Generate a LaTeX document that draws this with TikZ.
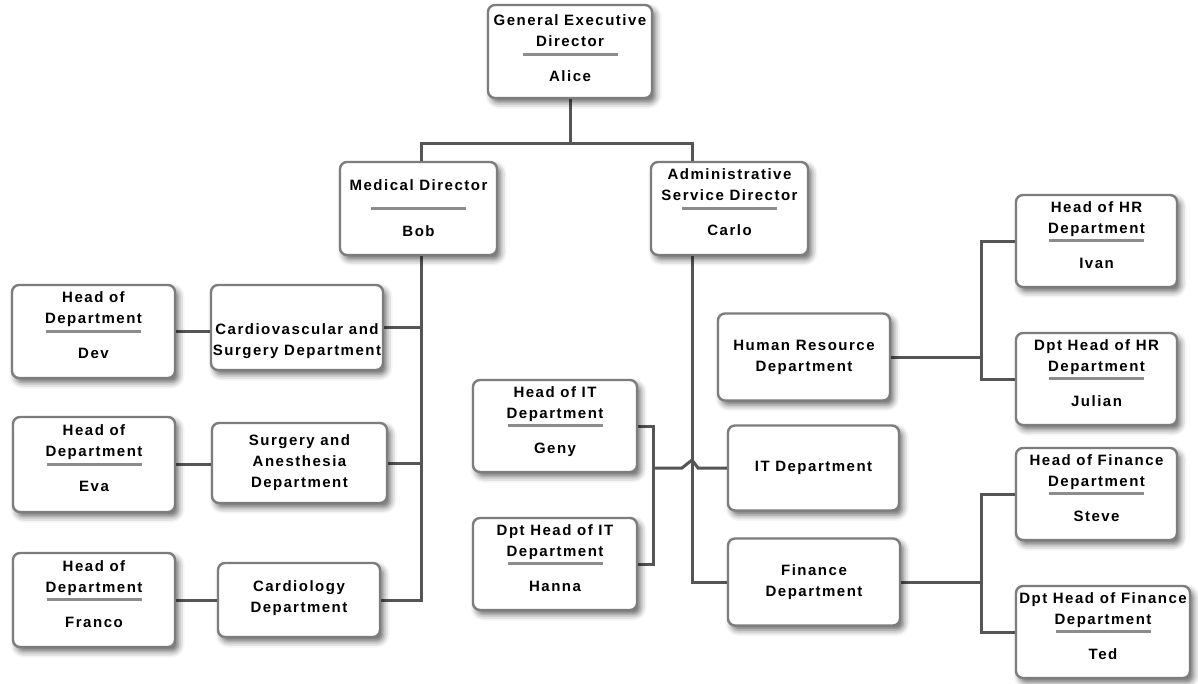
\documentclass[tikz,border=0pt]{standalone}
\usepackage{fontspec}
\setmainfont{Liberation Sans}[LetterSpace=10]
\usetikzlibrary{calc,shadows.blur}

\definecolor{linegray}{RGB}{85,85,85}
\definecolor{framegray}{RGB}{125,125,125}
\definecolor{rulegray}{RGB}{140,140,140}

\pgfdeclarelayer{background}
\pgfsetlayers{background,main}

\tikzset{
  box/.style={draw=framegray, line width=2.4pt, fill=white, rounded corners=7pt,
    inner sep=0pt,
    blur shadow={shadow xshift=3.5pt, shadow yshift=-4.5pt, shadow blur radius=6pt, shadow opacity=60}},
  conn/.style={draw=linegray, line width=3pt},
  sepline/.style={draw=rulegray, line width=3pt},
  txt/.style={font=\bfseries\fontsize{15}{21}\selectfont, inner sep=0pt, align=center, anchor=base},
  dtxt/.style={font=\bfseries\fontsize{15}{21}\selectfont, inner sep=0pt, align=center},
}

% staff box: name, x, y, width, height, title line 1, title line 2, person, vertical offset
\newcommand\staffbox[9]{%
  \node[box, minimum width=#4pt, minimum height=#5pt] (#1) at (#2,#3) {};
  \node[txt] at ($(#1.center)+(0,#9-28.6)$) {#6};
  \node[txt] at ($(#1.center)+(0,#9-7.6)$) {#7};
  \draw[sepline] ($(#1.center)+(-47.5,#9-0.5)$) -- ($(#1.center)+(47.5,#9-0.5)$);
  \node[txt] at ($(#1.center)+(0,#9+27.4)$) {#8};
}
% department box: name, x, y, width, height, text, vertical text offset
\newcommand\deptbox[7]{%
  \node[box, minimum width=#4pt, minimum height=#5pt] (#1) at (#2,#3) {};
  \node[dtxt] at ($(#1.center)+(0,#7)$) {#6};
}

\begin{document}
\begin{tikzpicture}[x=1pt, y=-1pt]
\useasboundingbox (0,0) rectangle (1198,683);

% top levels
\staffbox{alice}{570}{51.5}{164}{93}{General Executive}{Director}{Alice}{3}
\staffbox{bob}{418.5}{208.5}{157}{93}{}{}{Bob}{0.5}
\node[txt] at ($(bob.center)+(0,-18)$) {Medical Director};
\staffbox{carlo}{729.5}{208.5}{157}{93}{Administrative}{Service Director}{Carlo}{0}

% medical branch
\deptbox{cardio}{297}{327.5}{172}{85}{Cardiovascular and\\Surgery Department}{14}
\deptbox{surgery}{299.5}{463}{175}{80}{Surgery and\\Anesthesia\\Department}{0}
\deptbox{cardiology}{299}{600}{162}{74}{Cardiology\\Department}{-1.5}
\staffbox{dev}{93.5}{331.5}{163}{93}{Head of}{Department}{Dev}{0}
\staffbox{eva}{94}{464.5}{162}{95}{Head of}{Department}{Eva}{0}
\staffbox{franco}{94}{600}{162}{94}{Head of}{Department}{Franco}{0}

% administrative branch
\deptbox{hr}{804}{357}{172}{87}{Human Resource\\Department}{0}
\deptbox{it}{813.5}{468}{171}{85}{IT Department}{0}
\deptbox{finance}{814}{582}{172}{87}{Finance\\Department}{0}
\staffbox{geny}{555}{426}{164}{92}{Head of IT}{Department}{Geny}{0}
\staffbox{hanna}{555}{564}{164}{92}{Dpt Head of IT}{Department}{Hanna}{0}
\staffbox{ivan}{1096.5}{241}{161}{92}{Head of HR}{Department}{Ivan}{0}
\staffbox{julian}{1096.5}{379}{161}{92}{Dpt Head of HR}{Department}{Julian}{0}
\staffbox{steve}{1096.5}{494}{161}{92}{Head of Finance}{Department}{Steve}{0}
\staffbox{ted}{1103}{632}{174}{92}{Dpt Head of Finance}{Department}{Ted}{0}

% bus and trunk points
\coordinate (bx) at (421,143);
\coordinate (cx) at (692,143);
\coordinate (bend) at (421,600);
\coordinate (cend) at (692,582);
\coordinate (itx) at (653,468);
\coordinate (hrx) at (981,357);
\coordinate (fx) at (981,582);

\begin{pgfonlayer}{background}
  \draw[conn] (alice.south) -- (alice.south |- bx);
  \draw[conn] (bob.north -| bx) -- (bx) -- (cx) -- (carlo.north -| cx);

  \draw[conn] (bob.south -| bend) -- (bend) -- (bend -| cardiology.east);
  \draw[conn] (cardio.east) -- (cardio.east -| bend);
  \draw[conn] (surgery.east) -- (surgery.east -| bend);
  \draw[conn] (dev.east) -- (dev.east -| cardio.west);
  \draw[conn] (eva.east) -- (eva.east -| surgery.west);
  \draw[conn] (franco.east) -- (franco.east -| cardiology.west);

  \draw[conn] (carlo.south -| cend) -- (cend) -- (cend -| finance.west);
  \draw[conn] (geny.east) -| (itx) |- (hanna.east);
  \draw[conn] (itx) -- ($(itx -| cend)+(-10,0)$) -- ($(itx -| cend)+(0,-8)$)
    -- ($(itx -| cend)+(6,0)$) -- (itx -| it.west);

  \draw[conn] (hr.east) -- (hrx);
  \draw[conn] (ivan.west) -| (hrx) |- (julian.west);
  \draw[conn] (finance.east) -- (fx);
  \draw[conn] (steve.west) -| (fx) |- (ted.west);
\end{pgfonlayer}
\end{tikzpicture}
\end{document}
